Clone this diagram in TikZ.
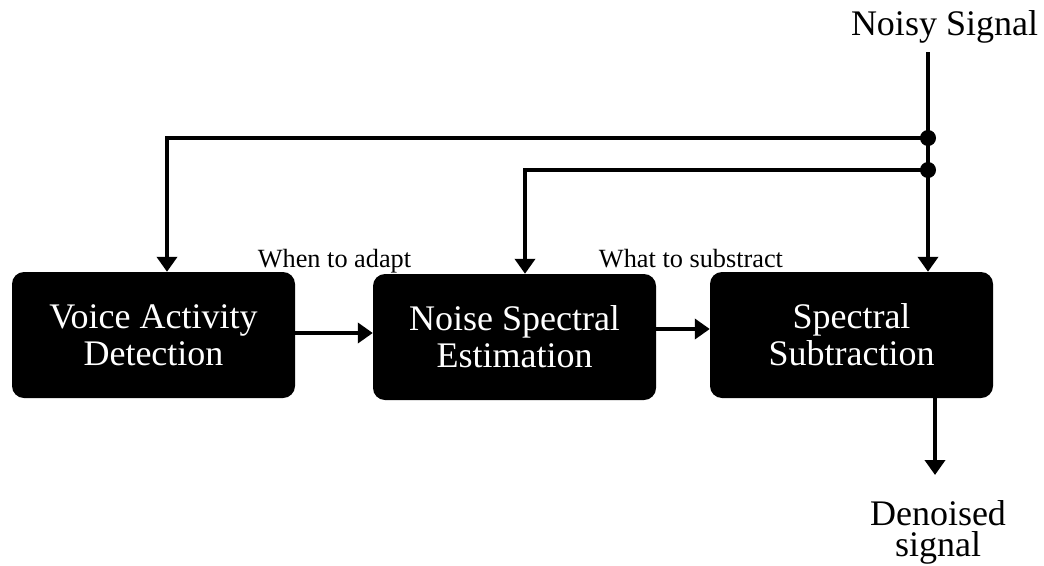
\documentclass[tikz,border=0pt]{standalone}
\usepackage{fontspec}
\setmainfont{Liberation Serif}
\usetikzlibrary{arrows.meta}
\tikzset{
  box/.style={fill=black, draw=none, rounded corners=12pt, text=white, align=center,
    minimum width=283pt, minimum height=126pt, inner sep=0pt,
    font=\fontsize{36}{37}\selectfont},
  lbl/.style={inner sep=0pt, anchor=base, font=\fontsize{26.3}{28}\selectfont},
  big/.style={inner sep=0pt, font=\fontsize{36}{31.5}\selectfont, align=center},
  conn/.style={line width=4.8pt},
  arr/.style={conn, -{Triangle[width=20pt,length=15pt]}},
}
\begin{document}
\begin{tikzpicture}[x=1pt,y=-1pt]
\useasboundingbox (0,0) rectangle (1044,565);
\node[box] (vad) at (153.5,335) {Voice Activity\\Detection};
\node[box] (nse) at (514.5,337) {Noise Spectral\\Estimation};
\node[box] (ss) at (851.5,335) {Spectral\\Subtraction};
\node[big, anchor=base] (noisy) at (944.5,35) {Noisy Signal};
\node[big, anchor=north] (den) at (938,500) {Denoised\\signal};
\node[lbl] (l1) at (334.5,267) {When to adapt};
\node[lbl] (l2) at (691,267) {What to substract};
\coordinate (top) at (928,52);
\coordinate (d1) at (928,138);
\coordinate (d2) at (928,170);
\coordinate (c1) at (167,138);
\coordinate (c2) at (525,170);
\coordinate (o1) at (935,475);
\draw[arr] (top) -- (top |- ss.north);
\draw[arr] (d1) -- (c1) -- (c1 |- vad.north);
\draw[arr] (d2) -- (c2) -- (c2 |- nse.north);
\fill (d1) circle[radius=8pt];
\fill (d2) circle[radius=8pt];
\draw[arr] ([yshift=2pt]vad.east) -- ([yshift=2pt]vad.east -| nse.west);
\draw[arr] ([yshift=8pt]nse.east) -- ([yshift=8pt]nse.east -| ss.west);
\draw[arr] (o1 |- ss.south) -- (o1);
\end{tikzpicture}
\end{document}
